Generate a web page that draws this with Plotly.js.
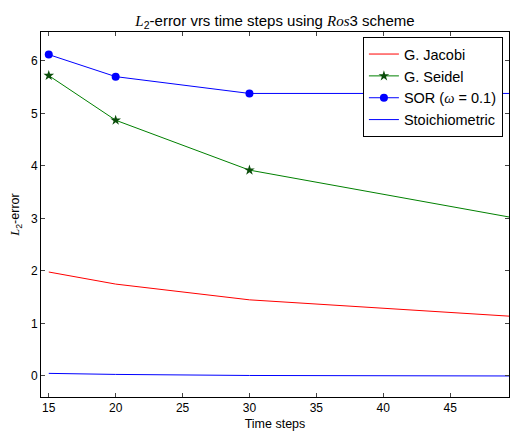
<!DOCTYPE html>
<html>
<head>
<meta charset="utf-8">
<script src="https://cdn.plot.ly/plotly-3.0.1.min.js"></script>
<style>html,body{margin:0;padding:0;background:#fff;}</style>
</head>
<body>
<div id="chart" style="width:510px;height:431px;"></div>
<script>
var steps = [15, 20, 30, 50];
var jacobi = [1.98, 1.75, 1.45, 1.13];
var seidel = [5.72, 4.87, 3.92, 3.00];
var sor = [6.12, 5.70, 5.38, 5.38];
var stoich = [0.05, 0.03, 0.01, 0.00];
var xTicks = [15, 20, 25, 30, 35, 40, 45];
var yTicks = [0, 1, 2, 3, 4, 5, 6];

var font = "Liberation Sans, Arial, sans-serif";
function m(s) { return '<span style="font-family:Liberation Serif, serif;font-style:italic">' + s + '</span>'; }
var traces = [
  {x: steps, y: jacobi, mode: 'lines', name: 'G. Jacobi', line: {color: '#ff0000', width: 1}},
  {x: steps, y: seidel, mode: 'lines+markers', name: 'G. Seidel', line: {color: '#008000', width: 1},
   marker: {symbol: 'star', size: 8, color: '#0a4d0a'}},
  {x: steps, y: sor, mode: 'lines+markers', name: 'SOR (' + m('ω') + ' = 0.1)', line: {color: '#0000ff', width: 1},
   marker: {symbol: 'circle', size: 8, color: '#0000ff'}},
  {x: steps, y: stoich, mode: 'lines', name: 'Stoichiometric', line: {color: '#0000ff', width: 1}}
];
var layout = {
  width: 510, height: 431,
  margin: {l: 41, r: 1, t: 32, b: 34},
  paper_bgcolor: '#fff', plot_bgcolor: '#fff',
  font: {family: font, size: 12, color: '#000'},
  title: {text: m('L') + '<sub>2</sub>-error vrs time steps using ' + m('Ros') + '3 scheme',
          x: 0.5, xref: 'paper', y: 0.952, yanchor: 'middle', font: {size: 15, family: font}},
  xaxis: {range: [14.42, 49.4], tickvals: xTicks, ticks: 'inside', ticklen: 4, mirror: 'ticks',
          showline: true, linecolor: '#000', linewidth: 1, showgrid: false, zeroline: false,
          tickfont: {size: 12}, title: {text: 'Time steps', font: {size: 12.5}, standoff: 4}},
  yaxis: {range: [-0.4, 6.55], tickvals: yTicks, ticks: 'inside', ticklen: 4, mirror: 'ticks',
          showline: true, linecolor: '#000', linewidth: 1, showgrid: false, zeroline: false,
          tickfont: {size: 12}, title: {text: m('L') + '<sub>2</sub>-error', font: {size: 12.5}, standoff: 8}},
  legend: {x: 0.987, xanchor: 'right', y: 0.986, yanchor: 'top', bordercolor: '#000', borderwidth: 1,
           bgcolor: '#fff', font: {size: 14.5}},
  showlegend: true
};
Plotly.newPlot('chart', traces, layout, {displayModeBar: false, staticPlot: true});
</script>
</body>
</html>
